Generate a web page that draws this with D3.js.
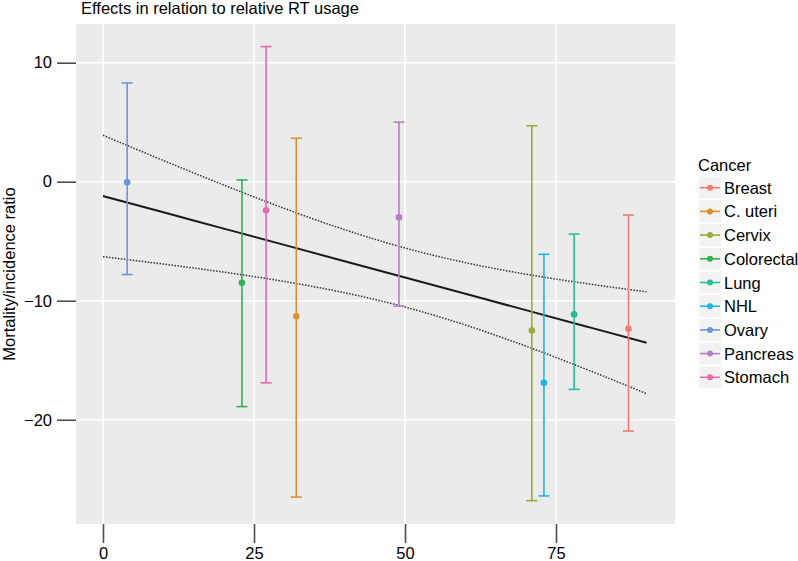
<!DOCTYPE html>
<html>
<head>
<meta charset="utf-8">
<script src="https://cdn.jsdelivr.net/npm/d3@7"></script>
<style>
  body { margin: 0; background: #fff; }
  text { font-family: "Liberation Sans", Arial, sans-serif; }
</style>
</head>
<body>
<svg id="chart" width="798" height="561"></svg>
<script>
// ---- data ----
const cancers   = ["Breast", "C. uteri", "Cervix", "Colorectal", "Lung", "NHL", "Ovary", "Pancreas", "Stomach"];
const rtUsage   = [87, 32, 71, 23, 78, 73, 4, 49, 27];
const ratio     = [-12.35, -11.3, -12.5, -8.5, -11.15, -16.9, -0.05, -3.0, -2.4];
const ratioLow  = [-20.95, -26.5, -26.8, -18.9, -17.45, -26.4, -7.8, -10.45, -16.9];
const ratioHigh = [-2.8, 3.65, 4.7, 0.15, -4.4, -6.1, 8.3, 5.0, 11.35];
const colors    = ["#F07B72", "#D8922B", "#9DAA3A", "#2FB350", "#2DBC9A", "#1FB6E0", "#6B96D6", "#B57FC6", "#E56AAE"];

const fitX     = [0, 10, 20, 30, 40, 50, 60, 70, 80, 90];
const fitY     = [-1.2, -2.57, -3.94, -5.31, -6.68, -8.05, -9.42, -10.79, -12.16, -13.53];
const fitUpper = [3.9, 1.78, -0.28, -2.24, -4.03, -5.57, -6.8, -7.77, -8.56, -9.25];
const fitLower = [-6.3, -6.92, -7.6, -8.38, -9.33, -10.53, -12.04, -13.81, -15.76, -17.81];

const xTicks = [0, 25, 50, 75];
const yTicks = [-20, -10, 0, 10];

// ---- layout ----
const FS = 16.5;
const svg = d3.select("#chart");
const P = { left: 76, right: 675, top: 24, bottom: 524 };

const x = d3.scaleLinear().domain([-4.47, 94.7]).range([P.left, P.right]);
const y = d3.scaleLinear().domain([-28.76, 13.25]).range([P.bottom, P.top]);

// panel
svg.append("rect").attr("x", P.left).attr("y", P.top)
  .attr("width", P.right - P.left).attr("height", P.bottom - P.top)
  .attr("fill", "#ebebeb");

// grid
const grid = svg.append("g");
grid.selectAll(".gx").data(xTicks).join("line")
  .attr("x1", d => x(d)).attr("x2", d => x(d))
  .attr("y1", P.top).attr("y2", P.bottom)
  .attr("stroke", "#fff").attr("stroke-width", 1.6);
grid.selectAll(".gy").data(yTicks).join("line")
  .attr("x1", P.left).attr("x2", P.right)
  .attr("y1", d => y(d)).attr("y2", d => y(d))
  .attr("stroke", "#fff").attr("stroke-width", 1.6);

// axes
const xAxis = d3.axisBottom(x).tickValues(xTicks).tickSize(19).tickPadding(4).tickFormat(d3.format("d"));
const gx = svg.append("g").attr("transform", `translate(0,${P.bottom})`).call(xAxis);
gx.select(".domain").remove();
gx.selectAll(".tick line").attr("stroke", "#4d4d4d").attr("stroke-width", 1.6);
gx.selectAll(".tick text").attr("font-size", FS).attr("fill", "#000")
  .attr("font-family", "Liberation Sans, Arial, sans-serif");

const yFmt = d => (d < 0 ? "\u2212" + Math.abs(d) : String(d));
const yAxis = d3.axisLeft(y).tickValues(yTicks).tickSize(19).tickPadding(5).tickFormat(yFmt);
const gy = svg.append("g").attr("transform", `translate(${P.left},0)`).call(yAxis);
gy.select(".domain").remove();
gy.selectAll(".tick line").attr("stroke", "#4d4d4d").attr("stroke-width", 1.6);
gy.selectAll(".tick text").attr("font-size", FS).attr("fill", "#000")
  .attr("font-family", "Liberation Sans, Arial, sans-serif");

// fit data
const fit = fitX.map((v, i) => ({ x: v, y: fitY[i], lo: fitLower[i], hi: fitUpper[i] }));
const mk = key => d3.line().x(d => x(d.x)).y(d => y(d[key])).curve(d3.curveMonotoneX);

svg.append("path").datum(fit).attr("d", mk("hi"))
  .attr("fill", "none").attr("stroke", "#333").attr("stroke-width", 1.5).attr("stroke-dasharray", "1.5,1.5");
svg.append("path").datum(fit).attr("d", mk("lo"))
  .attr("fill", "none").attr("stroke", "#333").attr("stroke-width", 1.5).attr("stroke-dasharray", "1.5,1.5");
svg.append("path").datum(fit).attr("d", mk("y"))
  .attr("fill", "none").attr("stroke", "#1a1a1a").attr("stroke-width", 2);

// error bars
const rows = cancers.map((c, i) => ({ c, x: rtUsage[i], y: ratio[i], lo: ratioLow[i], hi: ratioHigh[i], col: colors[i] }));
const capW = 5.5;
const eb = svg.append("g").selectAll("g").data(rows).join("g");
eb.append("line").attr("x1", d => x(d.x)).attr("x2", d => x(d.x))
  .attr("y1", d => y(d.lo)).attr("y2", d => y(d.hi))
  .attr("stroke", d => d.col).attr("stroke-width", 1.6);
eb.append("line").attr("x1", d => x(d.x) - capW).attr("x2", d => x(d.x) + capW)
  .attr("y1", d => y(d.hi)).attr("y2", d => y(d.hi))
  .attr("stroke", d => d.col).attr("stroke-width", 1.6);
eb.append("line").attr("x1", d => x(d.x) - capW).attr("x2", d => x(d.x) + capW)
  .attr("y1", d => y(d.lo)).attr("y2", d => y(d.lo))
  .attr("stroke", d => d.col).attr("stroke-width", 1.6);
eb.append("circle").attr("cx", d => x(d.x)).attr("cy", d => y(d.y)).attr("r", 3.3)
  .attr("fill", d => d.col);

// title
svg.append("text").attr("x", 81).attr("y", 13.5).attr("font-size", FS).attr("fill", "#000")
  .text("Effects in relation to relative RT usage");

// y axis title
svg.append("text").attr("transform", `translate(15,${(P.top + P.bottom) / 2}) rotate(-90)`)
  .attr("text-anchor", "middle").attr("font-size", FS).attr("fill", "#000")
  .text("Mortality/incidence ratio");

// legend
const lg = svg.append("g");
lg.append("text").attr("x", 698).attr("y", 171).attr("font-size", FS).attr("fill", "#000").text("Cancer");
const rowH = 23.7, y0 = 187.7;
const li = lg.selectAll(".li").data(rows).join("g")
  .attr("transform", (d, i) => `translate(0,${y0 + i * rowH})`);
li.append("rect").attr("x", 699).attr("y", -11).attr("width", 22).attr("height", 22).attr("fill", "#f2f2f2");
li.append("line").attr("x1", 700).attr("x2", 720).attr("y1", 0).attr("y2", 0)
  .attr("stroke", d => d.col).attr("stroke-width", 1.6);
li.append("circle").attr("cx", 710).attr("cy", 0).attr("r", 3).attr("fill", d => d.col);
li.append("text").attr("x", 724).attr("y", 6).attr("font-size", FS).attr("fill", "#000").text(d => d.c);
</script>
</body>
</html>
